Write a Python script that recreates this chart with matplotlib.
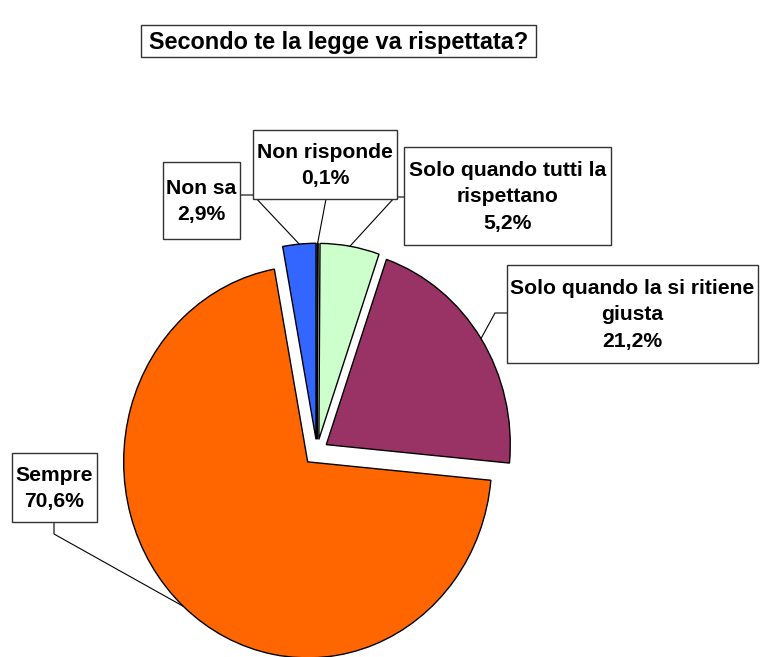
import numpy as np
import matplotlib
matplotlib.use("Agg")
import matplotlib.pyplot as plt
from matplotlib.patches import Rectangle

plt.rcParams['font.family'] = ['Liberation Sans', 'DejaVu Sans']

title = "Secondo te la legge va rispettata?"
categories = ["Non risponde", "Solo quando tutti la\nrispettano",
              "Solo quando la si ritiene\ngiusta", "Sempre", "Non sa"]
values = [0.1, 5.2, 21.2, 70.6, 2.9]
value_labels = ["0,1%", "5,2%", "21,2%", "70,6%", "2,9%"]
colors = ["#FFFFFF", "#CCFFCC", "#993366", "#FF6600", "#3366FF"]

W, H = 760, 657
fig = plt.figure(figsize=(W / 100, H / 100), dpi=100)

# pie geometry in pixels (center / radii)
cx, cy, rx, ry = 317, 451, 184, 196
ax = fig.add_axes([0, 0, 1, 1])
explode = [0.06, 0.06, 0.06, 0.075, 0.06]
wedges, _ = ax.pie(values, colors=colors, startangle=90, counterclock=False,
                   explode=explode, radius=1, center=(0, 0),
                   wedgeprops=dict(edgecolor='black', linewidth=1))
ax.set_aspect('auto')
ax.set_xlim(-cx / rx, (W - cx) / rx)
ax.set_ylim((cy - H) / ry, cy / ry)
ax.axis('off')


def p2d(x, y):
    return ((x - cx) / rx, (cy - y) / ry)


def f(x, y):
    return (x / W, 1 - y / H)


# mid-angle anchor points on each wedge arc
total = sum(values)
anchors = []
start = 90.0
for v, e in zip(values, explode):
    span = 360.0 * v / total
    mid = np.deg2rad(start - span / 2)
    d = np.array([np.cos(mid), np.sin(mid)])
    anchors.append(d * (1 + e))
    start -= span

# label boxes (pixel layout): left, top, right, bottom
boxes = [
    (253, 130, 397, 199),
    (404, 147, 611, 245),
    (507, 265, 758, 363),
    (12, 453, 97, 522),
    (163, 162, 240, 239),
]
# leader line elbows (pixel points from box to wedge)
leaders = [
    [(326, 199)],
    [(404, 197), (395, 197)],
    [(507, 313), (495, 313)],
    [(54, 522), (54, 534)],
    [(240, 195), (253, 195)],
]

fs = 15.2
for cat, lab, box, lead, anc in zip(categories, value_labels, boxes, leaders, anchors):
    l, t, r, b = box
    fig.patches.append(Rectangle(f(l, b), (r - l) / W, (b - t) / H,
                                 transform=fig.transFigure, facecolor='white',
                                 edgecolor='#333333', linewidth=1, zorder=3))
    fig.text(*f((l + r) / 2, (t + b) / 2 + 1), cat + "\n" + lab, ha='center', va='center',
             multialignment='center', fontsize=fs, fontweight='bold',
             linespacing=1.5, zorder=4)
    pts = [p2d(*p) for p in lead] + [tuple(anc)]
    xs, ys = zip(*pts)
    ax.plot(xs, ys, color='black', linewidth=0.8, clip_on=False, zorder=2)

# title box
fig.patches.append(Rectangle(f(141, 57), (536 - 141) / W, (57 - 25) / H,
                             transform=fig.transFigure, facecolor='white',
                             edgecolor='#333333', linewidth=1, zorder=3))
fig.text(*f(338.5, 42), title, ha='center', va='center', fontsize=16.9,
         fontweight='bold', zorder=4)

fig.savefig("out.png", dpi=100)
